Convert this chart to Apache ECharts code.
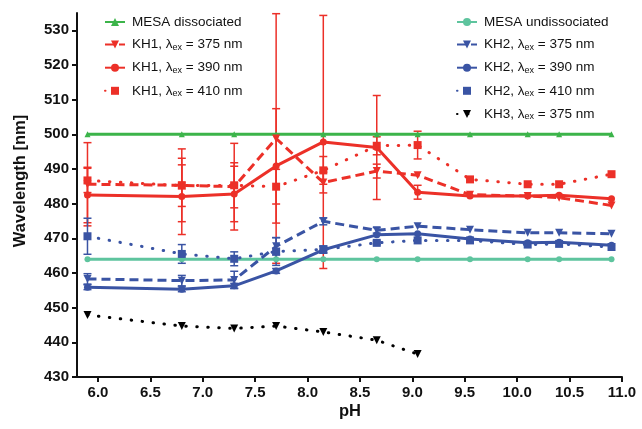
<!DOCTYPE html>
<html>
<head>
<meta charset="utf-8">
<script src="https://cdn.jsdelivr.net/npm/echarts@6/dist/echarts.min.js"></script>
<style>html,body{margin:0;padding:0;background:#fff}#c{width:642px;height:429px}</style>
</head>
<body>
<div id="c"></div>
<script>
// ---- data ----
const pH = [5.9, 6.8, 7.3, 7.7, 8.15, 8.66, 9.05, 9.55, 10.1, 10.4, 10.9];
const xTicks = [6.0, 6.5, 7.0, 7.5, 8.0, 8.5, 9.0, 9.5, 10.0, 10.5, 11.0];
const yTicks = [430, 440, 450, 460, 470, 480, 490, 500, 510, 520, 530];

const mesaDiss   = [500, 500, 500, 500, 500, 500, 500, 500, 500, 500, 500];
const mesaUndiss = [464, 464, 464, 464, 464, 464, 464, 464, 464, 464, 464];

const kh1_375 = [485.6, 485.3, 484.9, 498.8, 486.1, 489.4, 488.2, 482.6, 482.2, 481.7, 479.5];
const kh1_390 = [482.5, 482.1, 482.8, 490.9, 497.8, 496.2, 483.3, 482.2, 482.2, 482.4, 481.4];
const kh1_410 = [486.7, 485.2, 485.3, 484.9, 489.6, 496.7, 496.9, 487.0, 485.6, 485.6, 488.5];

const kh2_375 = [458.3, 457.8, 458.0, 467.7, 474.9, 472.3, 473.5, 472.5, 471.6, 471.6, 471.3];
const kh2_390 = [455.9, 455.3, 456.3, 460.6, 466.7, 471.0, 471.3, 469.8, 468.7, 468.9, 468.0];
const kh2_410 = [470.6, 465.5, 464.1, 466.2, 466.8, 468.7, 469.4, 469.4, 468.2, 468.4, 467.5];

const kh3_375 = [447.9, 444.7, 444.0, 444.7, 443.0, 440.6, 436.6];

// error bar half-widths (SD)
const kh1_375_err = [12, 10.5, 12.5, 36, 3, 2, 0, 0, 0, 0, 0];
const kh1_390_err = [8, 11, 8, 16.5, 36.5, 15, 2, 0, 0, 0, 0];
const kh1_410_err = [3.5, 6, 6.5, 5, 4, 2.6, 4, 0, 0, 0, 0];
const kh2_375_err = [1.5, 1.5, 2.5, 2.5, 1, 0.8, 0, 0, 0, 0, 0];
const kh2_390_err = [0.7, 0.7, 0.7, 0.7, 1, 0, 0, 0, 0, 0, 0];
const kh2_410_err = [5.2, 2.7, 2, 4, 1, 0.5, 0, 0, 0, 0, 0];

const names = {
  md: 'MESA dissociated',
  mu: 'MESA undissociated',
  a375: 'KH1, λex = 375 nm', a390: 'KH1, λex = 390 nm', a410: 'KH1, λex = 410 nm',
  b375: 'KH2, λex = 375 nm', b390: 'KH2, λex = 390 nm', b410: 'KH2, λex = 410 nm',
  c375: 'KH3, λex = 375 nm'
};

// ---- styles ----
const FONT = "Arial, 'Liberation Sans', sans-serif";
const RED = '#ec3028', GREEN = '#3cb44a', TEAL = '#5ec49e', BLUE = '#3a54a4', BLACK = '#000';
const DASH = [9, 5], DOT = [0.5, 10.5];

function pts(vals) { return vals.map((v, i) => [pH[i], v]); }
function lineSeries(name, vals, color, type, symbol, size, rotate) {
  return {
    name, type: 'line', data: pts(vals), color,
    symbol, symbolSize: size, symbolRotate: rotate || 0,
    lineStyle: { color, width: 3, type, cap: type === DOT ? 'round' : 'butt' },
    itemStyle: { color }, z: 3, animation: false
  };
}
function errData(vals, errs) {
  const out = [];
  vals.forEach((v, i) => { if (errs[i] > 0) out.push([pH[i], v, v - errs[i], v + errs[i]]); });
  return out;
}
function errSeries(data, color, w) {
  return {
    type: 'custom', data, z: 2, silent: true, animation: false, clip: false,
    renderItem(params, api) {
      const lo = api.coord([api.value(0), api.value(2)]);
      const hi = api.coord([api.value(0), api.value(3)]);
      const c = 4;
      const st = { stroke: color, lineWidth: w };
      return { type: 'group', children: [
        { type: 'line', shape: { x1: lo[0], y1: lo[1], x2: hi[0], y2: hi[1] }, style: st },
        { type: 'line', shape: { x1: hi[0] - c, y1: hi[1], x2: hi[0] + c, y2: hi[1] }, style: st },
        { type: 'line', shape: { x1: lo[0] - c, y1: lo[1], x2: lo[0] + c, y2: lo[1] }, style: st }
      ]};
    }
  };
}

const legendText = {
  fontFamily: FONT, fontSize: 13.5, color: '#111',
  padding: [0, 0, 0, 2],
  rich: { sub: { fontFamily: FONT, fontSize: 9, color: '#111', padding: [6, 0, 0, 0] } }
};
const legendFmt = n => n.replace('λex', 'λ{sub|ex}');

const axisFont = { fontFamily: FONT, fontWeight: 'bold', fontSize: 15, color: '#111' };

const option = {
  backgroundColor: '#fff',
  animation: false,
  grid: { left: 77, right: 20, top: 13, bottom: 52, containLabel: false },
  legend: [
    { data: [names.md, names.a375, names.a390, names.a410], orient: 'vertical', left: 99, top: 10,
      itemWidth: 20, itemHeight: 10, itemGap: 8.6, textStyle: legendText, formatter: legendFmt, selectedMode: false },
    { data: [names.mu, names.b375, names.b390, names.b410, names.c375], orient: 'vertical', left: 451, top: 10,
      itemWidth: 20, itemHeight: 10, itemGap: 8.6, textStyle: legendText, formatter: legendFmt, selectedMode: false }
  ],
  xAxis: {
    type: 'value', min: 5.8, max: 11.0,
    axisLine: { lineStyle: { color: '#111', width: 2 } },
    axisTick: { show: true, length: 5, lineStyle: { color: '#111', width: 2 }, customValues: xTicks },
    axisLabel: { ...axisFont, margin: 8, customValues: xTicks, formatter: v => Number(v).toFixed(1) },
    splitLine: { show: false }
  },
  yAxis: {
    type: 'value', min: 430, max: 535,
    axisLine: { show: true, lineStyle: { color: '#111', width: 2 } },
    axisTick: { show: true, length: 5, lineStyle: { color: '#111', width: 2 }, customValues: yTicks },
    axisLabel: { ...axisFont, margin: 8, customValues: yTicks },
    splitLine: { show: false }
  },
  graphic: [
    { type: 'text', x: 20, y: 181, rotation: Math.PI / 2,
      style: { text: 'Wavelength [nm]', font: "bold 16.5px Arial, 'Liberation Sans', sans-serif", fill: '#111', align: 'center', verticalAlign: 'middle' } },
    { type: 'text', x: 350, y: 411,
      style: { text: 'pH', font: "bold 16.5px Arial, 'Liberation Sans', sans-serif", fill: '#111', align: 'center', verticalAlign: 'middle' } }
  ],
  series: [
    errSeries(errData(kh1_375, kh1_375_err), RED, 1.5),
    errSeries(errData(kh1_390, kh1_390_err), RED, 1.5),
    errSeries(errData(kh1_410, kh1_410_err), RED, 1.5),
    errSeries(errData(kh2_375, kh2_375_err), BLUE, 1.5),
    errSeries(errData(kh2_390, kh2_390_err), BLUE, 1.5),
    errSeries(errData(kh2_410, kh2_410_err), BLUE, 1.5),
    lineSeries(names.md, mesaDiss, GREEN, 'solid', 'triangle', 6),
    lineSeries(names.mu, mesaUndiss, TEAL, 'solid', 'circle', 6),
    lineSeries(names.a375, kh1_375, RED, DASH, 'triangle', 8, 180),
    lineSeries(names.a390, kh1_390, RED, 'solid', 'circle', 7),
    lineSeries(names.a410, kh1_410, RED, DOT, 'rect', 8),
    lineSeries(names.b375, kh2_375, BLUE, DASH, 'triangle', 8, 180),
    lineSeries(names.b390, kh2_390, BLUE, 'solid', 'circle', 7),
    lineSeries(names.b410, kh2_410, BLUE, DOT, 'rect', 8),
    lineSeries(names.c375, kh3_375, BLACK, DOT, 'triangle', 8, 180)
  ]
};
const chart = echarts.init(document.getElementById('c'), null, { renderer: 'canvas' });
chart.setOption(option);
</script>
</body>
</html>
